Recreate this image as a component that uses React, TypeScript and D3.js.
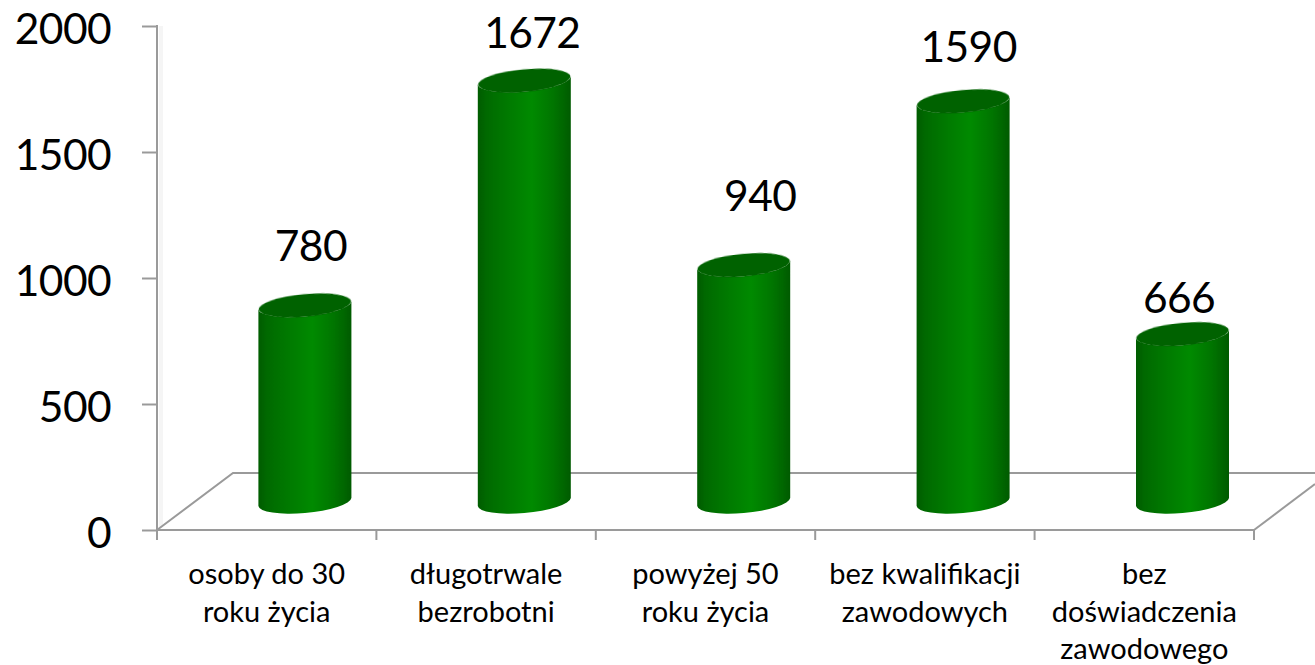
import React, { useEffect, useRef } from 'react';
import * as d3 from 'd3';

const categories = [
  ['osoby do 30', 'roku życia'],
  ['długotrwale', 'bezrobotni'],
  ['powyżej 50', 'roku życia'],
  ['bez kwalifikacji', 'zawodowych'],
  ['bez', 'doświadczenia', 'zawodowego'],
];
const values = [780, 1672, 940, 1590, 666];
const yTicks = [0, 500, 1000, 1500, 2000];

// hand-placed data labels, relative to the top of each cylinder
const labelDx = [6, 8, 16.5, 5.5, -3.5];
const labelDy = [-44, -33, -54, -39, -21];

const FONT = 'Lato, Carlito, sans-serif';
const AXIS = '#9a9a9a';

const App = () => {
  const svgRef = useRef<SVGSVGElement | null>(null);

  useEffect(() => {
    if (!svgRef.current) return;
    const svg = d3.select(svgRef.current);
    svg.selectAll('*').remove();

    const x0 = 157, x1 = 1254, y0 = 530, y1 = 26;
    const depthX = 76, depthY = 57; // floor perspective offset

    const x = d3.scaleBand<number>()
      .domain(categories.map((_, i) => i))
      .range([x0, x1]);
    const y = d3.scaleLinear().domain([0, 2000]).range([y0, y1]);

    const defs = svg.append('defs');
    const grad = defs.append('linearGradient').attr('id', 'cyl')
      .attr('x1', 0).attr('x2', 1).attr('y1', 0).attr('y2', 0);
    [[0, '#005c00'], [0.1, '#006a00'], [0.3, '#007800'], [0.58, '#068a06'], [0.8, '#007600'], [0.94, '#006400'], [1, '#005a00']]
      .forEach(([o, c]) => grad.append('stop').attr('offset', o as number).attr('stop-color', c as string));

    const blur = defs.append('filter').attr('id', 'soft')
      .attr('x', '-5%').attr('y', '-5%').attr('width', '110%').attr('height', '110%');
    blur.append('feGaussianBlur').attr('stdDeviation', 0.5);

    // faint wall edge next to the axis
    svg.append('line')
      .attr('x1', x0 + 4).attr('x2', x0 + 4).attr('y1', y1).attr('y2', y0 - 3)
      .attr('stroke', '#f5f5f5').attr('stroke-width', 4);

    // floor
    svg.append('path')
      .attr('d', `M${x0},${y0}L${x0 + depthX},${y0 - depthY}H1315`)
      .attr('fill', 'none').attr('stroke', AXIS).attr('stroke-width', 2);
    svg.append('path')
      .attr('d', `M${x1},${y0}L1315,${y0 - 46}`)
      .attr('fill', 'none').attr('stroke', AXIS).attr('stroke-width', 2);

    // y axis
    const yAxis = svg.append('g')
      .attr('transform', `translate(${x0},0)`)
      .call(d3.axisLeft(y).tickValues(yTicks).tickSize(15).tickPadding(15).tickFormat(d3.format('d')));
    yAxis.selectAll('line').attr('stroke', AXIS).attr('stroke-width', 2);
    yAxis.select('.domain').attr('stroke', AXIS).attr('stroke-width', 2)
      .attr('d', `M0,${y1 - 1}V${y0 + 10}`);
    yAxis.selectAll('text')
      .attr('font-family', FONT).attr('font-size', 42.5).attr('fill', '#000')
      .attr('letter-spacing', -0.6)
      .attr('x', -46).attr('dy', 17.5);

    // x axis
    const xAxis = svg.append('g').attr('transform', `translate(0,${y0})`);
    xAxis.append('line').attr('x1', x0).attr('x2', x1).attr('stroke', AXIS).attr('stroke-width', 2);
    d3.range(categories.length + 1).forEach((i) => {
      const tx = x0 + i * x.bandwidth();
      xAxis.append('line').attr('x1', tx).attr('x2', tx).attr('y1', 0).attr('y2', 10)
        .attr('stroke', AXIS).attr('stroke-width', 2);
    });

    categories.forEach((lines, i) => {
      const cx = x(i)! + x.bandwidth() / 2;
      lines.forEach((t, j) => {
        svg.append('text')
          .attr('x', cx).attr('y', 584 + j * 37.5)
          .attr('text-anchor', 'middle')
          .attr('font-family', FONT).attr('font-size', 29).attr('fill', '#000')
          .text(t);
      });
    });

    // cylinders
    const rx = 46.7, ry = 11.3, rot = -5.2, hw = 46.5, tilt = 4;
    const base = y(0) - depthY / 2 + 0.5;
    values.forEach((v, i) => {
      const cx = x(i)! + x.bandwidth() / 2 + depthX / 2 + 0.2;
      const top = y(v) - 28;
      const g = svg.append('g');
      g.append('path')
        .attr('d', `M${cx - hw},${top + tilt}V${base + tilt}` +
          `A${rx},${ry} ${rot} 0 0 ${cx + hw},${base - tilt}` +
          `V${top - tilt}A${rx},${ry} ${rot} 0 1 ${cx - hw},${top + tilt}Z`)
        .attr('fill', 'url(#cyl)').attr('filter', 'url(#soft)');
      g.append('ellipse')
        .attr('rx', rx - 0.3).attr('ry', ry)
        .attr('transform', `translate(${cx},${top}) rotate(${rot})`)
        .attr('fill', '#006200').attr('filter', 'url(#soft)');

      svg.append('text')
        .attr('x', cx + labelDx[i]).attr('y', top + labelDy[i])
        .attr('text-anchor', 'middle')
        .attr('font-family', FONT).attr('font-size', 42.5).attr('fill', '#000')
        .attr('letter-spacing', -0.6)
        .text(v);
    });
  }, []);

  return (
    <svg ref={svgRef} width={1315} height={665}
      style={{ position: 'absolute', left: 0, top: 0, background: '#fff', display: 'block' }} />
  );
};

export default App;
